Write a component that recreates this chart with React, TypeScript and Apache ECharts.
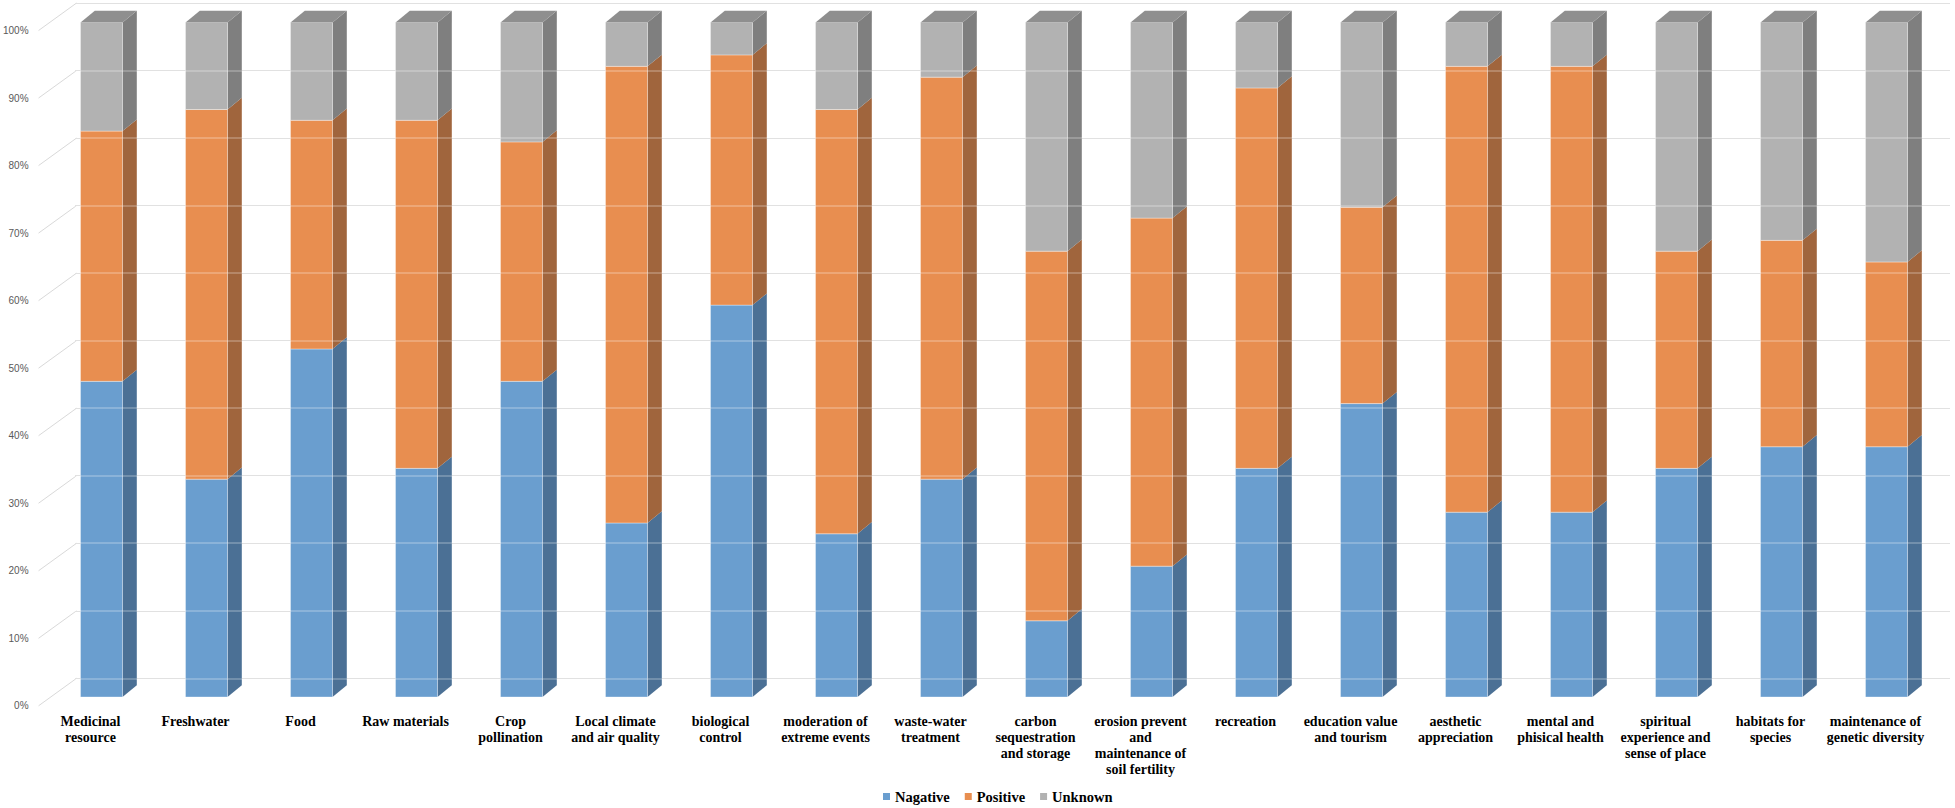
import React, { useEffect, useRef } from "react";
import * as echarts from "echarts";

const categories = [
  "Medicinal\nresource",
  "Freshwater",
  "Food",
  "Raw materials",
  "Crop\npollination",
  "Local climate\nand air quality",
  "biological\ncontrol",
  "moderation of\nextreme events",
  "waste-water\ntreatment",
  "carbon\nsequestration\nand storage",
  "erosion prevent\nand\nmaintenance of\nsoil fertility",
  "recreation",
  "education value\nand tourism",
  "aesthetic\nappreciation",
  "mental and\nphisical health",
  "spiritual\nexperience and\nsense of place",
  "habitats for\nspecies",
  "maintenance of\ngenetic diversity",
];

const negative = [46.8, 32.3, 51.6, 33.9, 46.8, 25.8, 58.1, 24.2, 32.3, 11.3, 19.4, 33.9, 43.5, 27.4, 27.4, 33.9, 37.1, 37.1];
const positive = [37.1, 54.8, 33.9, 51.6, 35.5, 67.7, 37.1, 62.9, 59.6, 54.8, 51.6, 56.4, 29.1, 66.1, 66.1, 32.2, 30.6, 27.4];
const unknown = [16.1, 12.9, 14.5, 14.5, 17.7, 6.5, 4.8, 12.9, 8.1, 33.9, 29.0, 9.7, 27.4, 6.5, 6.5, 33.9, 32.3, 35.5];

const seriesNames = ["Nagative", "Positive", "Unknown"];
const yTicks = [0, 10, 20, 30, 40, 50, 60, 70, 80, 90, 100];

const faceColors = ["#6A9ECF", "#E88E50", "#B2B2B2"];
const sideColors = ["#4B7095", "#A0653D", "#7F7F7F"];
const topColor = "#8F8F8F";

const DX = 14.3;
const DY = -11.7;
const HALF = 21;
const SHIFT = 11;

export default function App() {
  const ref = useRef<HTMLDivElement>(null);

  useEffect(() => {
    if (!ref.current) return;
    const chart = echarts.init(ref.current, undefined, { renderer: "svg" });

    const valueSets = [negative, positive, unknown];
    const bases = categories.map(() => 0);
    const stacked = valueSets.map((vals) =>
      vals.map((v, i) => {
        const lo = bases[i];
        const hi = lo + v;
        bases[i] = hi;
        return [i, lo, hi];
      })
    );

    const makeRender = (si: number) => (params: any, api: any) => {
      const i = api.value(0);
      const lo = api.value(1);
      const hi = api.value(2);
      const a = api.coord([i, hi]);
      const b = api.coord([i, lo]);
      const cx = a[0] + SHIFT;
      const xl = cx - HALF;
      const xr = cx + HALF;
      const yt = a[1];
      const yb = b[1];
      const children: any[] = [
        {
          type: "polygon",
          shape: { points: [[xr, yt], [xr + DX, yt + DY], [xr + DX, yb + DY], [xr, yb]] },
          style: { fill: sideColors[si] },
        },
        {
          type: "rect",
          shape: { x: xl, y: yt, width: xr - xl, height: yb - yt },
          style: { fill: faceColors[si], stroke: "rgba(255,255,255,0.35)", lineWidth: 1 },
        },
      ];
      if (si === 2) {
        children.push({
          type: "polygon",
          shape: { points: [[xl, yt], [xl + DX, yt + DY], [xr + DX, yt + DY], [xr, yt]] },
          style: { fill: topColor },
        });
      }
      return { type: "group", children };
    };

    const option: any = {
      animation: false,
      backgroundColor: "#ffffff",
      color: faceColors,
      grid: [
        { left: 38, right: 27, top: 22.5, bottom: 111 },
        { left: 75, right: 5, top: 3, bottom: 129.7 },
        { left: 37, right: 5, top: 30.5, bottom: 102.2 },
      ],
      xAxis: [
        {
          type: "category",
          gridIndex: 0,
          data: categories,
          axisLine: { show: false },
          axisTick: { show: false },
          axisLabel: {
            interval: 0,
            margin: 16,
            color: "#000000",
            fontFamily: "Liberation Serif, Times New Roman, serif",
            fontWeight: "bold",
            fontSize: 14,
            lineHeight: 16,
            hideOverlap: false,
          },
        },
        { type: "value", gridIndex: 1, min: 0, max: 1, show: false },
        { type: "value", gridIndex: 2, min: 0, max: 1, show: false },
      ],
      yAxis: [
        { type: "value", gridIndex: 0, min: 0, max: 100, show: false, splitLine: { show: false } },
        {
          type: "value",
          gridIndex: 1,
          min: 0,
          max: 100,
          interval: 10,
          axisLine: { show: false },
          axisTick: { show: false },
          axisLabel: { show: false },
          splitLine: { show: true, lineStyle: { color: "#D9D9D9", width: 1 } },
        },
        {
          type: "value",
          gridIndex: 1,
          min: 0,
          max: 100,
          interval: 10,
          z: 10,
          axisLine: { show: false },
          axisTick: { show: false },
          axisLabel: { show: false },
          splitLine: { show: true, lineStyle: { color: "rgba(255,255,255,0.3)", width: 1.5 } },
        },
        {
          type: "value",
          gridIndex: 2,
          min: 0,
          max: 100,
          interval: 10,
          axisLine: { show: false },
          axisTick: { show: false },
          splitLine: { show: false },
          axisLabel: {
            margin: 10,
            color: "#595959",
            fontFamily: "Liberation Sans, Arial, sans-serif",
            fontSize: 10,
            formatter: (v: number) => `${v}%`,
          },
        },
      ],
      legend: {
        data: seriesNames,
        left: 878,
        top: 784,
        icon: "rect",
        itemWidth: 7,
        itemHeight: 7,
        itemGap: 15,
        textStyle: {
          color: "#000000",
          fontFamily: "Liberation Serif, Times New Roman, serif",
          fontWeight: "bold",
          fontSize: 14.5,
        },
      },
      series: [
        {
          type: "custom",
          name: "diagonals",
          xAxisIndex: 2,
          yAxisIndex: 3,
          silent: true,
          data: yTicks.map((v) => [0, v]),
          encode: { x: 0, y: 1 },
          renderItem: (params: any, api: any) => {
            const p = api.coord([0, api.value(1)]);
            return {
              type: "line",
              shape: { x1: p[0], y1: p[1], x2: p[0] + 38, y2: p[1] - 27.5 },
              style: { stroke: "#D9D9D9", lineWidth: 1 },
            };
          },
          z: 1,
        },
        ...seriesNames.map((name, si) => ({
          type: "custom",
          name,
          xAxisIndex: 0,
          yAxisIndex: 0,
          data: stacked[si],
          encode: { x: 0, y: [1, 2] },
          itemStyle: { color: faceColors[si] },
          renderItem: makeRender(si),
          z: 2,
        })),
      ],
    };

    chart.setOption(option);
    return () => chart.dispose();
  }, []);

  return (
    <div
      ref={ref}
      style={{ position: "absolute", left: 0, top: 0, width: 1955, height: 808 }}
    />
  );
}
